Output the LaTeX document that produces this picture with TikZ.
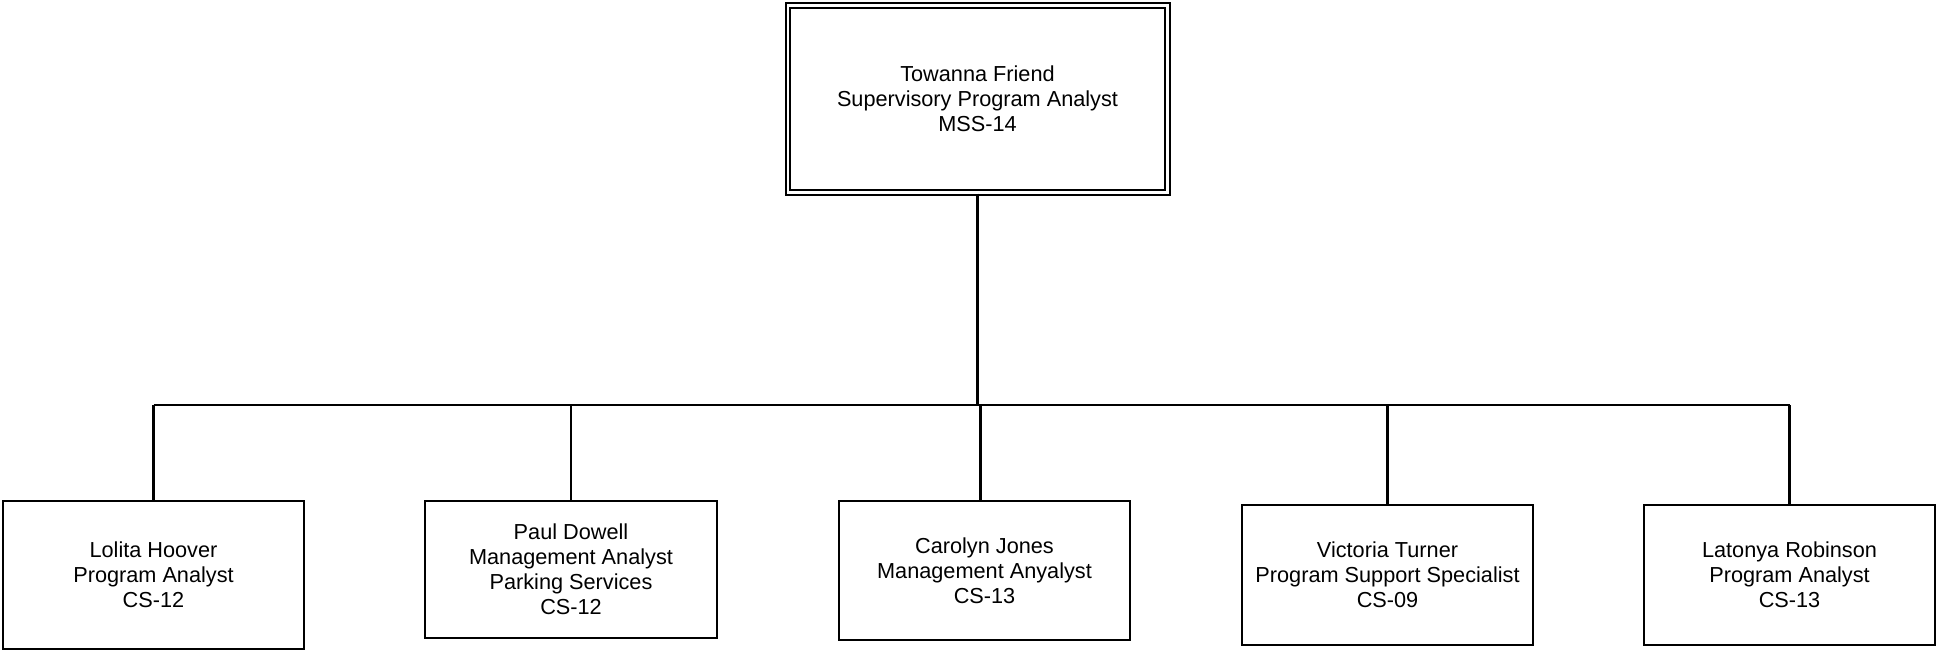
\documentclass[tikz,border=0pt]{standalone}
\usepackage{fontspec}
\setmainfont{Liberation Sans}
\begin{document}
\begin{tikzpicture}[x=1pt,y=-1pt,
  orgbox/.style={draw, line width=2.5pt, inner sep=0pt, align=center,
    font=\fontsize{21.7}{25}\selectfont},
  topbox/.style={draw, double, double distance=2.5pt, line width=2pt, inner sep=0pt, align=center,
    font=\fontsize{21.7}{25}\selectfont},
  link/.style={line width=2.2pt}]
\useasboundingbox (0,0) rectangle (1936,650);
\node[topbox, minimum width=379.5pt, minimum height=187pt] (top) at (977.5,99) {Towanna Friend\\Supervisory Program Analyst\\MSS-14};
\node[orgbox, minimum width=301pt, minimum height=148pt] (b1) at (153.5,575) {Lolita Hoover\\ Program Analyst\\CS-12};
\node[orgbox, minimum width=292pt, minimum height=137pt] (b2) at (571,569.5) {Paul Dowell\\Management Analyst\\Parking Services\\CS-12};
\node[orgbox, minimum width=291pt, minimum height=139pt] (b3) at (984.5,570.5) {Carolyn Jones\\Management Anyalyst\\CS-13};
\node[orgbox, minimum width=291pt, minimum height=140pt] (b4) at (1387.5,575) {Victoria Turner\\Program Support Specialist\\CS-09};
\node[orgbox, minimum width=291pt, minimum height=140pt] (b5) at (1789.5,575) {Latonya Robinson\\ Program Analyst\\CS-13};
\coordinate (busL) at (b1.north |- 0,405);
\coordinate (busR) at (b5.north |- 0,405);
\coordinate (busM) at (top.south |- 0,405);
\coordinate (b3top) at ([xshift=-4pt]b3.north);
\draw[link] (busL) -- (busR);
\draw[link] (top.south) -- (busM);
\draw[link] (busL) -- (b1.north);
\draw[link] (busR) -- (b5.north);
\draw[link] (b2.north |- busL) -- (b2.north);
\draw[link] (b3top |- busL) -- (b3top);
\draw[link] (b4.north |- busL) -- (b4.north);
\end{tikzpicture}
\end{document}
